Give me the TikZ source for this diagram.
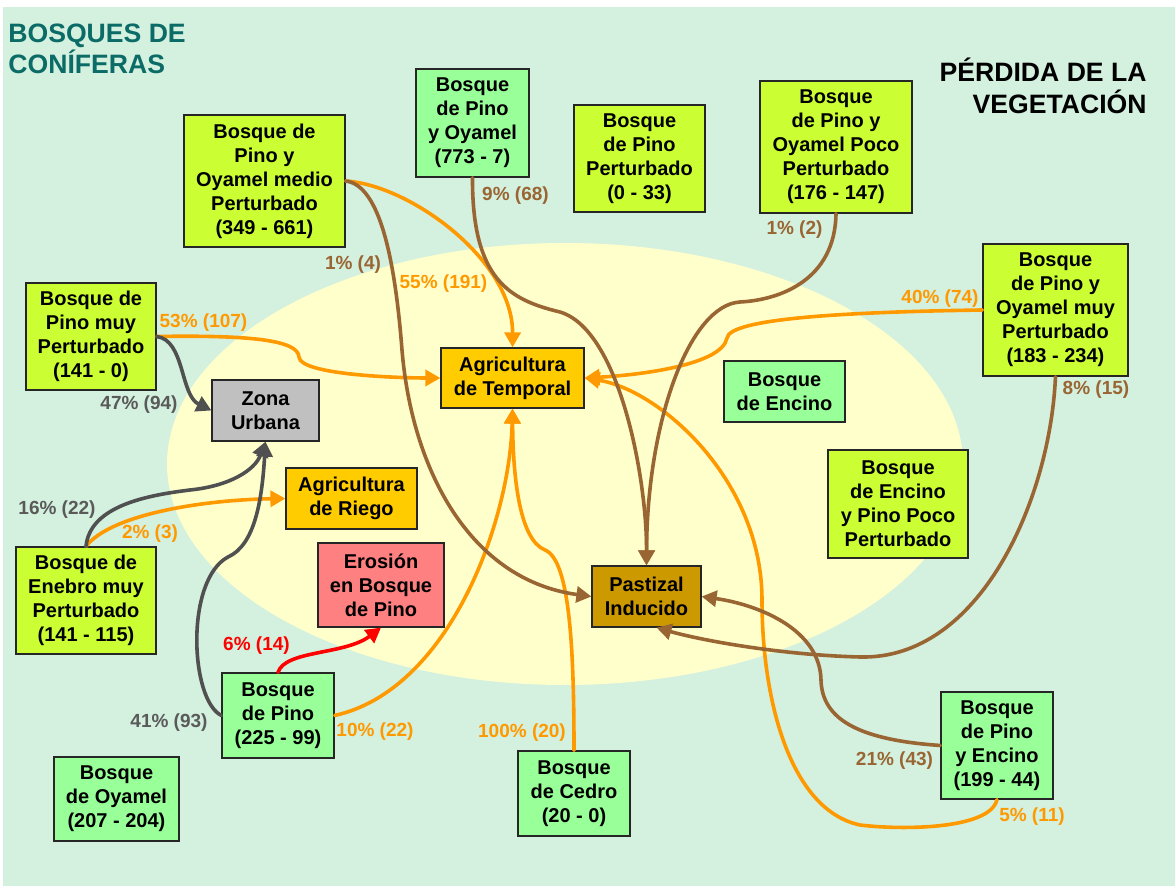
\documentclass[tikz,border=0pt]{standalone}
\usepackage{fontspec}
\setmainfont{Liberation Sans}
\usepackage{tikz}
\usetikzlibrary{arrows.meta}
\usepackage{xcolor}
\definecolor{fondo}{HTML}{D4F0DF}
\definecolor{elipse}{HTML}{FFFFCC}
\definecolor{verdeamar}{HTML}{CCFF33}
\definecolor{verdeclaro}{HTML}{99FF99}
\definecolor{grisurb}{HTML}{C0C0C0}
\definecolor{amagri}{HTML}{FFCC00}
\definecolor{rosaero}{HTML}{FF8080}
\definecolor{cafepas}{HTML}{CC9900}
\definecolor{naranja}{HTML}{FF9900}
\definecolor{cafe}{HTML}{996633}
\definecolor{grisosc}{HTML}{505050}
\definecolor{grislab}{HTML}{5A5A5A}
\definecolor{teal}{HTML}{0B6B66}

\begin{document}
\begin{tikzpicture}[x=0.5pt,y=-0.5pt,>={Triangle[length=7.5pt,width=8pt]},line cap=round,
  caja/.style={draw=black!85,line width=0.6pt,inner sep=0pt,align=center,
    font=\bfseries\fontsize{10}{12}\selectfont},
  dim/.style 2 args={minimum width=#1*0.5pt,minimum height=#2*0.5pt},
  flujo/.style={->,line width=1.8pt},
  pct/.style={font=\bfseries\fontsize{9.5}{11}\selectfont,inner sep=0pt}]
\useasboundingbox (0,0) rectangle (1175,886);
\fill[fondo] (3,7) rectangle (1175,886);
\fill[elipse] (565,464) ellipse[x radius=398,y radius=221];
% titulos
\node[anchor=west,align=left,inner sep=0pt,text=teal,font=\bfseries\fontsize{13.3}{15.5}\selectfont] (tconif) at (8,49) {BOSQUES DE\\CONÍFERAS};
\node[anchor=east,align=right,inner sep=0pt,font=\bfseries\fontsize{13.3}{16}\selectfont] (tperd) at (1147,86) {PÉRDIDA DE LA\\VEGETACIÓN};
% cajas
\node[caja,fill=verdeamar,dim={161}{132}] (bpomp) at (264.5,181) {Bosque de\\Pino y\\Oyamel medio\\Perturbado\\(349 - 661)};
\node[caja,fill=verdeclaro,dim={113}{108}] (bpo) at (472.5,123) {Bosque\\de Pino\\y Oyamel\\(773 - 7)};
\node[caja,fill=verdeamar,dim={131}{107}] (bpp) at (639.5,158.5) {Bosque\\de Pino\\Perturbado\\(0 - 33)};
\node[caja,fill=verdeamar,dim={152}{132}] (bpopp) at (836,147) {Bosque\\de Pino y\\Oyamel Poco\\Perturbado\\(176 - 147)};
\node[caja,fill=verdeamar,dim={145}{132}] (bpomuyp) at (1055.5,310) {Bosque\\de Pino y\\Oyamel muy\\Perturbado\\(183 - 234)};
\node[caja,fill=verdeamar,dim={130}{107}] (bpmuyp) at (91,336.5) {Bosque de\\Pino muy\\Perturbado\\(141 - 0)};
\node[caja,fill=grisurb,dim={107}{61}] (zona) at (265.5,410.5) {Zona\\Urbana};
\node[caja,fill=amagri,dim={143}{60}] (agrt) at (512.5,378) {Agricultura\\de Temporal};
\node[caja,fill=verdeclaro,dim={121}{61}] (encino) at (784.5,391.5) {Bosque\\de Encino};
\node[caja,fill=amagri,dim={131}{61}] (agrr) at (351.5,498.5) {Agricultura\\de Riego};
\node[caja,fill=rosaero,dim={126}{84}] (erosion) at (381,585) {Erosión\\en Bosque\\de Pino};
\node[caja,fill=verdeamar,dim={140}{107}] (bemuyp) at (86,600.5) {Bosque de\\Enebro muy\\Perturbado\\(141 - 115)};
\node[caja,fill=verdeamar,dim={140}{108}] (bepp) at (898,504) {Bosque\\de Encino\\y Pino Poco\\Perturbado};
\node[caja,fill=cafepas,dim={109}{61}] (pastizal) at (646.5,596.5) {Pastizal\\Inducido};
\node[caja,fill=verdeclaro,dim={112}{85}] (bpino) at (278,715.5) {Bosque\\de Pino\\(225 - 99)};
\node[caja,fill=verdeclaro,dim={125}{84}] (boyamel) at (116.5,799) {Bosque\\de Oyamel\\(207 - 204)};
\node[caja,fill=verdeclaro,dim={112}{85}] (bcedro) at (574,793.5) {Bosque\\de Cedro\\(20 - 0)};
\node[caja,fill=verdeclaro,dim={112}{107}] (bpe) at (997,745.5) {Bosque\\de Pino\\y Encino\\(199 - 44)};
% flujos hacia agricultura
\draw[flujo,naranja] (bpomp.east) .. controls (410,185) and (513,260) .. (agrt.north);
\draw[flujo,naranja] (bpmuyp.east) .. controls (250,335) and (298,340) .. (299,357) .. controls (300,375) and (400,378) .. (agrt.west);
\draw[flujo,naranja] (bpomuyp.west) .. controls (850,312) and (730,318) .. (727,338) .. controls (722,365) and (640,375) .. (agrt.east);
\draw[flujo,naranja] (bpe.south) .. controls (990,830) and (900,830) .. (860,825) .. controls (790,810) and (762,700) .. (762,600) .. controls (762,480) and (660,390) .. (agrt.east);
\draw[flujo,naranja] (bpino.east) .. controls (450,690) and (510,520) .. (agrt.south);
\draw[flujo,naranja] (bcedro.north) .. controls (574,650) and (570,560) .. (545,550) .. controls (520,540) and (513,480) .. (agrt.south);
\draw[flujo,naranja] (bemuyp.north) .. controls (110,515) and (200,500) .. (agrr.west);
% flujos hacia pastizal
\draw[flujo,cafe] (bpomp.east) .. controls (380,185) and (395,260) .. (402,350) .. controls (412,470) and (470,580) .. (pastizal.west);
\draw[flujo,cafe] (bpo.south) .. controls (472,280) and (510,300) .. (560,312) .. controls (620,330) and (647,480) .. (pastizal.north);
\draw[flujo,cafe] (bpopp.south) .. controls (835,280) and (780,300) .. (740,302) .. controls (690,305) and (647,420) .. (pastizal.north);
\draw[flujo,cafe] (bpomuyp.south) .. controls (1050,500) and (980,660) .. (860,657) .. controls (780,655) and (700,640) .. ([xshift=5pt]pastizal.south);
\draw[flujo,cafe] (bpe.west) .. controls (860,740) and (822,720) .. (821,680) .. controls (820,630) and (760,605) .. (pastizal.east);
% flujos hacia zona urbana y erosion
\draw[flujo,grisosc] (bpmuyp.east) .. controls (185,340) and (180,395) .. (zona.west);
\draw[flujo,grisosc] (bemuyp.north) .. controls (90,505) and (150,495) .. (190,490) .. controls (230,486) and (255,470) .. (zona.south);
\draw[flujo,grisosc] (bpino.west) .. controls (190,700) and (185,580) .. (228,557) .. controls (255,545) and (262,500) .. (zona.south);
\draw[flujo,red] (bpino.north) .. controls (285,650) and (345,655) .. (erosion.south);
% porcentajes
\node[pct,text=naranja] (p55) at (443.5,284) {55\% (191)};
\node[pct,text=cafe] (p1a) at (353,265) {1\% (4)};
\node[pct,text=cafe] (p9) at (515.5,196) {9\% (68)};
\node[pct,text=naranja] (p53) at (203.5,323) {53\% (107)};
\node[pct,text=grislab] (p47) at (139,405) {47\% (94)};
\node[pct,text=cafe] (p1b) at (794.5,230) {1\% (2)};
\node[pct,text=naranja] (p40) at (940,299) {40\% (74)};
\node[pct,text=cafe] (p8) at (1096,390) {8\% (15)};
\node[pct,text=grislab] (p16) at (57,510) {16\% (22)};
\node[pct,text=naranja] (p2) at (150,534) {2\% (3)};
\node[pct,text=red] (p6) at (256.5,646) {6\% (14)};
\node[pct,text=grislab] (p41) at (169,723) {41\% (93)};
\node[pct,text=naranja] (p10) at (375,732) {10\% (22)};
\node[pct,text=naranja] (p100) at (522,733) {100\% (20)};
\node[pct,text=cafe] (p21) at (894.5,761) {21\% (43)};
\node[pct,text=naranja] (p5) at (1032,817) {5\% (11)};
\end{tikzpicture}
\end{document}
